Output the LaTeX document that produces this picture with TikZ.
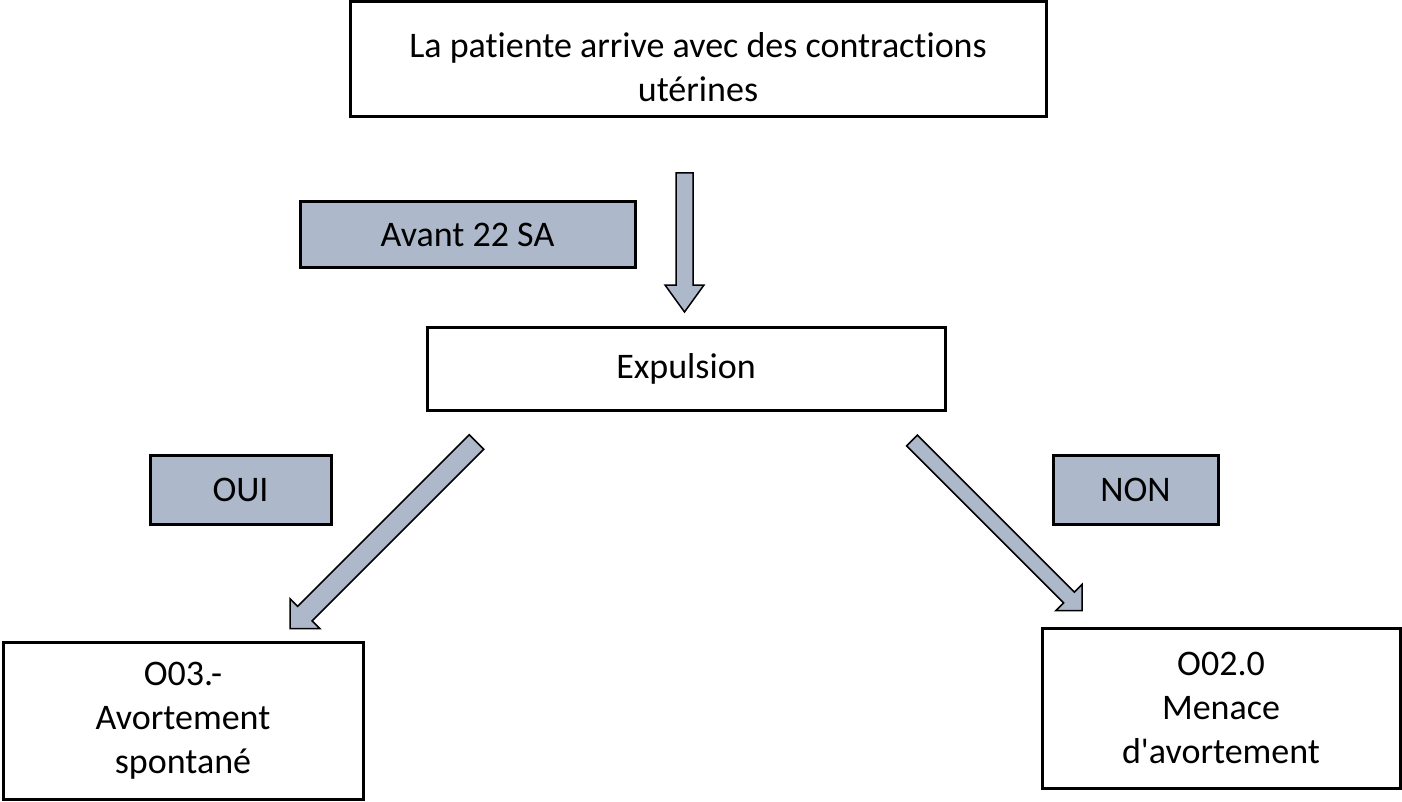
\documentclass[tikz,border=0pt]{standalone}
\usepackage{fontspec}
\setmainfont{Carlito}[Ligatures=NoCommon]
\usetikzlibrary{calc}
\definecolor{bluegray}{HTML}{ADB9CA}
\tikzset{
  box/.style={draw=black, line width=3pt, fill=white, inner sep=0pt, align=center,
    font=\fontsize{36}{44}\selectfont},
  tag/.style={box, fill=bluegray},
  barrow/.style={draw=black, line width=1.5pt, fill=bluegray, line join=miter},
}
\newcommand\blockarrow[5]{%
  \coordinate (#1-h) at ($(#2)!#5!(#1)$);
  \draw[barrow] ($(#1)!#3!90:(#2)$) -- ($(#1-h)!#3!90:(#2)$) -- ($(#1-h)!#4!90:(#2)$)
    -- (#2) -- ($(#1-h)!#4!-90:(#2)$) -- ($(#1-h)!#3!-90:(#2)$) -- ($(#1)!#3!-90:(#2)$) -- cycle;
}
\begin{document}
\begin{tikzpicture}[x=1pt,y=-1pt]
\useasboundingbox (0,0) rectangle (1402,802);
\node[box, minimum width=696pt, minimum height=115pt] (top) at (698,59.5)
  {\rule{0pt}{40pt}La patiente arrive avec des contractions\\utérines};
\node[tag, minimum width=335pt, minimum height=66pt] (avant) at (467.5,235) {Avant 22 SA};
\node[box, minimum width=518pt, minimum height=83pt] (exp) at (686,368.5) {Expulsion};
\node[tag, minimum width=181pt, minimum height=69pt] (oui) at (240.5,489.5) {OUI};
\node[tag, minimum width=165pt, minimum height=69pt] (non) at (1135.5,489.5) {NON};
\node[box, minimum width=360pt, minimum height=157pt] (ab) at (183,720.5)
  {O03.-\\Avortement\\spontané};
\node[box, minimum width=358pt, minimum height=160pt] (mn) at (1221,708)
  {O02.0\\Menace\\d\textquotesingle avortement};
\coordinate (vs) at (684.5,173);
\coordinate (ve) at (684.5,312);
\coordinate (ls) at (476.5,442);
\coordinate (le) at (290,628.5);
\coordinate (rs) at (912,440.5);
\coordinate (re) at (1082,610.5);
\blockarrow{vs}{ve}{8.5pt}{19.5pt}{27pt}
\blockarrow{ls}{le}{10.25pt}{21pt}{21pt}
\blockarrow{rs}{re}{7.6pt}{18.4pt}{18.4pt}
\end{tikzpicture}
\end{document}
